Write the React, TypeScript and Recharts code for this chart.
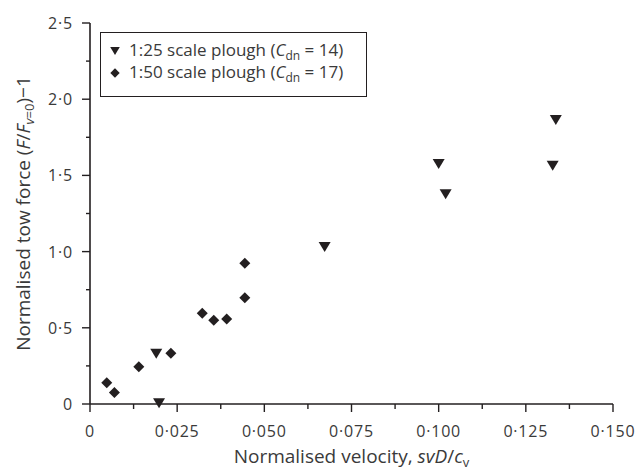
import React from 'react';
import { ScatterChart, Scatter, XAxis, YAxis, Legend } from 'recharts';

// tick values (major ticks carry a label, minor ones only a short line)
const X_MAJOR = [0, 0.025, 0.05, 0.075, 0.1, 0.125, 0.15];
const X_MINOR = [0.0125, 0.0375, 0.0625, 0.0875, 0.1125, 0.1375];
const Y_MAJOR = [0, 0.5, 1, 1.5, 2, 2.5];
const Y_MINOR = [0.25, 0.75, 1.25, 1.75, 2.25];

// 1:25 scale plough
const SCALE25_X = [0.019, 0.0198, 0.0673, 0.1, 0.102, 0.1336, 0.1327];
const SCALE25_Y = [0.33, 0.005, 1.03, 1.575, 1.376, 1.863, 1.564];

// 1:50 scale plough
const SCALE50_X = [0.0048, 0.007, 0.014, 0.0232, 0.0322, 0.0355, 0.0392, 0.0444, 0.0444];
const SCALE50_Y = [0.14, 0.075, 0.245, 0.333, 0.595, 0.55, 0.558, 0.923, 0.697];

const SERIES_NAMES = ['1:25 scale plough', '1:50 scale plough'];
const CDN_VALUES = [14, 17];

const INK = '#231f20';
const TEXT = '#3a3a3a';
const FONT = '"Open Sans", sans-serif';

const scale25 = SCALE25_X.map((x, i) => ({ x, y: SCALE25_Y[i] }));
const scale50 = SCALE50_X.map((x, i) => ({ x, y: SCALE50_Y[i] }));

const dot = (v: number, digits: number) => (v === 0 ? '0' : v.toFixed(digits).replace('.', '·'));

const DownTriangle = ({ cx, cy, s = 1 }: any) => (
  <path d={`M${cx - 6 * s},${cy - 5 * s} L${cx + 6 * s},${cy - 5 * s} L${cx},${cy + 5 * s} Z`} fill={INK} />
);

const Diamond = ({ cx, cy, s = 1 }: any) => (
  <path
    d={`M${cx},${cy - 5.5 * s} L${cx + 5.5 * s},${cy} L${cx},${cy + 5.5 * s} L${cx - 5.5 * s},${cy} Z`}
    fill={INK}
  />
);

const XTick = ({ x, y, payload }: any) => {
  const major = X_MAJOR.includes(payload.value);
  return (
    <g>
      <line x1={x} x2={x} y1={y} y2={y + (major ? 8 : 5)} stroke={INK} strokeWidth={1.4} />
      {major && (
        <text
          x={x}
          y={y + 33}
          textAnchor="middle"
          fill={TEXT}
          fontSize={16}
          letterSpacing={0.8}
          fontFamily={FONT}
        >
          {dot(payload.value, 3)}
        </text>
      )}
    </g>
  );
};

const YTick = ({ x, y, payload }: any) => {
  const major = Y_MAJOR.includes(payload.value);
  return (
    <g>
      <line x1={x - (major ? 8 : 4)} x2={x} y1={y} y2={y} stroke={INK} strokeWidth={1.4} />
      {major && (
        <text
          x={x - 17}
          y={y + 6}
          textAnchor="end"
          fill={TEXT}
          fontSize={16}
          letterSpacing={0.8}
          fontFamily={FONT}
        >
          {dot(payload.value, 1)}
        </text>
      )}
    </g>
  );
};

const XTitle = ({ viewBox }: any) => {
  const cx = viewBox.x + viewBox.width / 2;
  return (
    <text x={cx} y={viewBox.y + 59} textAnchor="middle" fill={TEXT} fontSize={19} fontFamily={FONT}>
      Normalised velocity, <tspan fontStyle="italic">svD</tspan>/<tspan fontStyle="italic">c</tspan>
      <tspan fontSize={13} dy={4}>v</tspan>
    </text>
  );
};

const YTitle = ({ viewBox }: any) => {
  const cy = viewBox.y + viewBox.height / 2;
  const x = 30;
  return (
    <text
      x={x}
      y={cy}
      transform={`rotate(-90 ${x} ${cy})`}
      textAnchor="middle"
      fill={TEXT}
      fontSize={19}
      fontFamily={FONT}
    >
      Normalised tow force (<tspan fontStyle="italic">F</tspan>/<tspan fontStyle="italic">F</tspan>
      <tspan fontSize={13} dy={4} fontStyle="italic">v</tspan>
      <tspan fontSize={13}>=0</tspan>
      <tspan dy={-4}>)−1</tspan>
    </text>
  );
};

const LegendBox = () => (
  <div
    style={{
      width: 265,
      height: 63,
      border: `1px solid ${INK}`,
      background: '#fff',
      fontFamily: FONT,
      fontSize: 17,
      color: TEXT,
    }}
  >
    {SERIES_NAMES.map((name, i) => (
      <div
        key={name}
        style={{ display: 'flex', alignItems: 'center', height: 22, marginTop: i === 0 ? 7 : 0, whiteSpace: 'nowrap' }}
      >
        <svg width={14} height={14} style={{ marginLeft: 7, marginRight: 7 }}>
          {i === 0 ? <DownTriangle cx={7} cy={7} s={0.8} /> : <Diamond cx={7} cy={7} s={0.85} />}
        </svg>
        <span>
          {name} (<i>C</i>
          <sub style={{ fontSize: 12 }}>dn</sub> = {CDN_VALUES[i]})
        </span>
      </div>
    ))}
  </div>
);

export default function App() {
  return (
    <div style={{ position: 'absolute', left: 0, top: 0, width: 640, height: 471, background: '#fff' }}>
      <ScatterChart width={640} height={471} margin={{ top: 23, right: 27, bottom: 17, left: 8 }}>
        <XAxis
          type="number"
          dataKey="x"
          domain={[0, 0.15]}
          ticks={[...X_MAJOR, ...X_MINOR].sort((a, b) => a - b)}
          interval={0}
          tick={<XTick />}
          tickLine={false}
          tickSize={0}
          tickMargin={0}
          height={50}
          axisLine={{ stroke: INK, strokeWidth: 1.6 }}
          label={{ content: (p: any) => <XTitle {...p} /> }}
        />
        <YAxis
          type="number"
          dataKey="y"
          domain={[0, 2.5]}
          ticks={[...Y_MAJOR, ...Y_MINOR].sort((a, b) => a - b)}
          interval={0}
          tick={<YTick />}
          tickLine={false}
          tickSize={0}
          tickMargin={0}
          width={82}
          axisLine={{ stroke: INK, strokeWidth: 1.6 }}
          label={{ content: (p: any) => <YTitle {...p} /> }}
        />
        <Legend
          layout="horizontal"
          verticalAlign="middle"
          align="center"
          content={() => <LegendBox />}
          wrapperStyle={{ left: 100, top: 32, width: 'auto', height: 'auto' }}
        />
        <Scatter
          name={SERIES_NAMES[0]}
          data={scale25}
          shape={(p: any) => <DownTriangle {...p} />}
          isAnimationActive={false}
        />
        <Scatter
          name={SERIES_NAMES[1]}
          data={scale50}
          shape={(p: any) => <Diamond {...p} />}
          isAnimationActive={false}
        />
      </ScatterChart>
    </div>
  );
}
